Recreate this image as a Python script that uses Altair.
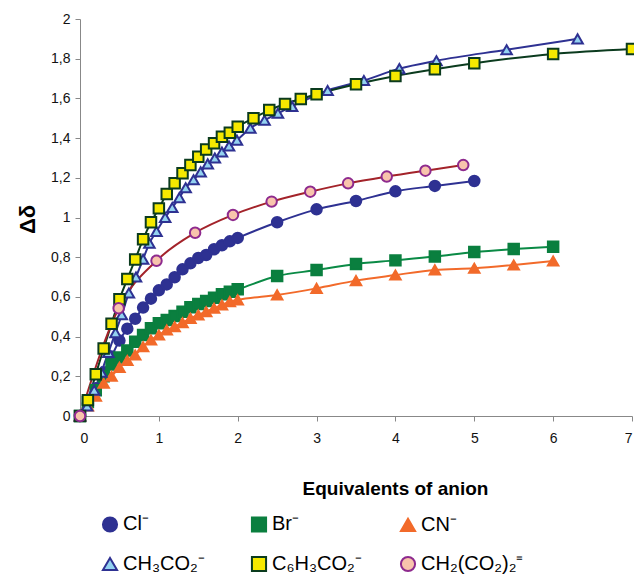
import altair as alt
import pandas as pd

anions = ["Cl⁻", "Br⁻", "CN⁻", "CH₃CO₂⁻", "C₆H₃CO₂⁻", "CH₂(CO₂)₂⁼"]

cl_x = [0, 0.1, 0.2, 0.3, 0.4, 0.5, 0.6, 0.7, 0.8, 0.9, 1.0, 1.1, 1.2, 1.3, 1.4, 1.5,
        1.6, 1.7, 1.8, 1.9, 2.0, 2.5, 3.0, 3.5, 4.0, 4.5, 5.0]
cl_y = [0, 0.06, 0.14, 0.22, 0.30, 0.38, 0.44, 0.49, 0.546, 0.591, 0.633, 0.663, 0.699,
        0.739, 0.769, 0.796, 0.811, 0.840, 0.860, 0.880, 0.897, 0.976, 1.041, 1.083,
        1.132, 1.159, 1.184]

br_x = [0, 0.1, 0.2, 0.3, 0.4, 0.5, 0.6, 0.7, 0.8, 0.9, 1.0, 1.1, 1.2, 1.3, 1.4, 1.5,
        1.6, 1.7, 1.8, 1.9, 2.0, 2.5, 3.0, 3.5, 4.0, 4.5, 5.0, 5.5, 6.0]
br_y = [0, 0.07, 0.13, 0.20, 0.26, 0.295, 0.33, 0.374, 0.408, 0.442, 0.467, 0.484,
        0.504, 0.525, 0.548, 0.564, 0.579, 0.596, 0.613, 0.626, 0.638, 0.705, 0.735,
        0.766, 0.784, 0.803, 0.826, 0.841, 0.853]

cn_x = [0, 0.1, 0.2, 0.3, 0.4, 0.5, 0.6, 0.7, 0.8, 0.9, 1.0, 1.1, 1.2, 1.3, 1.4, 1.5,
        1.6, 1.7, 1.8, 1.9, 2.0, 2.5, 3.0, 3.5, 4.0, 4.5, 5.0, 5.5, 6.0]
cn_y = [0, 0.05, 0.10, 0.165, 0.20, 0.245, 0.28, 0.307, 0.349, 0.383, 0.408, 0.433,
        0.45, 0.47, 0.492, 0.509, 0.525, 0.543, 0.559, 0.576, 0.585, 0.61, 0.643,
        0.682, 0.71, 0.736, 0.744, 0.761, 0.781]

ac_x = [0, 0.09, 0.18, 0.27, 0.36, 0.45, 0.53, 0.62, 0.71, 0.80, 0.88, 0.97, 1.08,
        1.17, 1.26, 1.34, 1.44, 1.53, 1.62, 1.71, 1.80, 1.89, 1.99, 2.16, 2.34, 2.51,
        2.69, 3.14, 3.60, 4.05, 4.52, 5.41, 6.31]
ac_y = [0, 0.05, 0.13, 0.22, 0.32, 0.42, 0.51, 0.62, 0.70, 0.79, 0.87, 0.93, 1.00,
        1.05, 1.10, 1.15, 1.19, 1.23, 1.27, 1.30, 1.33, 1.36, 1.39, 1.45, 1.49, 1.525,
        1.56, 1.64, 1.69, 1.75, 1.79, 1.845, 1.90]

bz_x = [0, 0.1, 0.2, 0.3, 0.4, 0.5, 0.6, 0.7, 0.8, 0.9, 1.0, 1.1, 1.2, 1.3, 1.4, 1.5,
        1.6, 1.7, 1.8, 1.9, 2.0, 2.2, 2.4, 2.6, 2.8, 3.0, 3.5, 4.0, 4.5, 5.0, 6.0, 7.0]
bz_y = [0, 0.08, 0.21, 0.34, 0.465, 0.588, 0.69, 0.789, 0.89, 0.976, 1.046, 1.118,
        1.172, 1.223, 1.264, 1.306, 1.343, 1.374, 1.407, 1.427, 1.457, 1.50, 1.541,
        1.572, 1.597, 1.621, 1.671, 1.713, 1.747, 1.777, 1.824, 1.849]

ma_x = [0, 0.49, 0.97, 1.46, 1.94, 2.43, 2.92, 3.40, 3.89, 4.38, 4.86]
ma_y = [0, 0.543, 0.782, 0.923, 1.013, 1.08, 1.13, 1.172, 1.206, 1.236, 1.264]

series_x = [cl_x, br_x, cn_x, ac_x, bz_x, ma_x]
series_y = [cl_y, br_y, cn_y, ac_y, bz_y, ma_y]

shapes = ["circle", "square", "triangle-up", "triangle-up", "square", "circle"]
fills = ["#2E3192", "#0A7F3F", "#F26A2A", "#93D2F0", "#F5E900", "#F8C4AC"]
strokes = ["#2E3192", "#0A7F3F", "#F26A2A", "#2E3192", "#0B3B1E", "#8E2A8E"]
line_colors = ["#2E3192", "#0A8A45", "#F26A2A", "#2E3192", "#0B3B1E", "#A3232A"]

rows = []
for name, xs, ys in zip(anions, series_x, series_y):
    for xv, yv in zip(xs, ys):
        rows.append({"anion": name, "eq": xv, "dd": yv})
df = pd.DataFrame(rows)

x_enc = alt.X("eq:Q", scale=alt.Scale(domain=[0, 7], nice=False),
              axis=alt.Axis(values=[0, 1, 2, 3, 4, 5, 6, 7], title="Equivalents of anion",
                            titleX=315, titleY=72, titleAlign="center",
                            titleBaseline="middle", labelPadding=10))
y_enc = alt.Y("dd:Q", scale=alt.Scale(domain=[0, 2], nice=False),
              axis=alt.Axis(values=[0, 0.2, 0.4, 0.6, 0.8, 1, 1.2, 1.4, 1.6, 1.8, 2],
                            format=".1~f", labelExpr="replace(datum.label, '.', ',')",
                            title="Δδ", titleX=-53, titleY=200, titleAlign="center",
                            titleBaseline="middle", titleAngle=270, titleFontSize=22,
                            labelPadding=5))

lines = alt.Chart(df).mark_line(interpolate="monotone", strokeWidth=2).encode(
    x=x_enc, y=y_enc,
    color=alt.Color("anion:N", scale=alt.Scale(domain=anions, range=line_colors), legend=None),
    order="eq:Q",
)

leg = alt.Legend(title=None, orient="none", legendX=20, legendY=495, columns=3,
                 direction="horizontal",
                 gridAlign="all", columnPadding=21, rowPadding=16, symbolSize=200,
                 symbolStrokeWidth=2, labelFontSize=20, labelFont="Liberation Sans",
                 labelColor="#000000", labelOffset=3, padding=0, labelLimit=300)

points = alt.Chart(df).mark_point(filled=True, strokeWidth=2, opacity=1, size=110).encode(
    x=x_enc, y=y_enc,
    shape=alt.Shape("anion:N", scale=alt.Scale(domain=anions, range=shapes), legend=leg),
    fill=alt.Fill("anion:N", scale=alt.Scale(domain=anions, range=fills)),
    stroke=alt.Stroke("anion:N", scale=alt.Scale(domain=anions, range=strokes)),
)

chart = alt.layer(lines, points).resolve_scale(color="independent").properties(
    width=552, height=397,
    autosize=alt.AutoSizeParams(type="none"),
    padding={"left": 72, "top": 11, "right": 2, "bottom": 161},
).configure_view(stroke=None).configure_axis(
    domainColor="#888888", tickColor="#888888", tickSize=5, grid=False,
    labelFont="Liberation Sans", labelFontSize=14, labelColor="#111111",
    titleFont="Liberation Sans", titleFontWeight="bold", titleFontSize=19,
    titleColor="#000000",
)

chart.save("out.html", embed_options={"renderer": "svg", "actions": False})
